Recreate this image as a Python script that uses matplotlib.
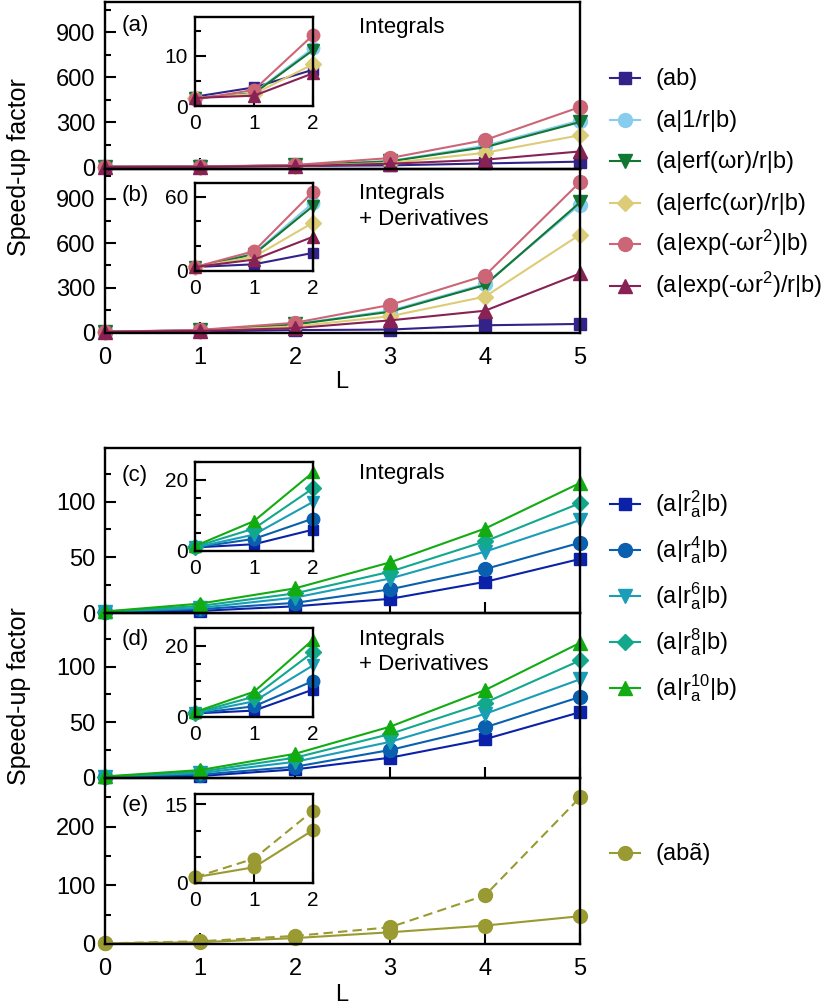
import matplotlib.pyplot as plt
import numpy as np
from matplotlib.lines import Line2D
from matplotlib.ticker import MultipleLocator

plt.rcParams.update({'font.family': 'Liberation Sans', 'font.size': 17,
                     'mathtext.fontset': 'custom', 'mathtext.rm': 'Liberation Sans',
                     'mathtext.it': 'Liberation Sans', 'mathtext.default': 'rm',
                     'axes.linewidth': 1.7})

L = [0, 1, 2, 3, 4, 5]

# (a) integrals, (b) integrals + derivatives
top_labels = ['(ab)', '(a|1/r|b)', '(a|erf(ωr)/r|b)', '(a|erfc(ωr)/r|b)',
              '(a|exp(-ωr$^2$)|b)', '(a|exp(-ωr$^2$)/r|b)']
top_colors = ['#332288', '#88ccee', '#117733', '#ddcc77', '#cc6677', '#882255']
top_markers = ['s', 'o', 'v', 'D', 'o', '^']

int_ab = [1.85, 3.7, 7.2, 11, 24, 36]
int_1r = [1.6, 2.6, 11.5, 40, 142, 310]
int_erf = [1.6, 2.5, 11.1, 38, 132, 300]
int_erfc = [1.6, 2.4, 8.3, 27, 95, 212]
int_exp = [1.3, 3.2, 14.1, 60, 180, 400]
int_expr = [1.6, 2.05, 6.5, 22, 49, 104]

der_ab = [3.2, 5.4, 14.6, 18, 47, 56]
der_1r = [3.2, 14, 55, 145, 325, 860]
der_erf = [3.2, 13.5, 52.4, 138, 318, 875]
der_erfc = [3.2, 11.4, 39, 108, 240, 658]
der_exp = [3.2, 16, 64, 184, 382, 1012]
der_expr = [3.2, 9.2, 27.6, 80, 145, 396]

# (c) integrals, (d) integrals + derivatives, r_a^n operators
bot_labels = [r'(a|r$_a^2$|b)', r'(a|r$_a^4$|b)', r'(a|r$_a^6$|b)',
              r'(a|r$_a^8$|b)', r'(a|r$_a^{10}$|b)']
bot_colors = ['#0b22a8', '#0a60ae', '#1a9db6', '#12a88c', '#12ac12']
bot_markers = ['s', 'o', 'v', 'D', '^']

int_r2 = [1.0, 1.9, 6.0, 12.7, 27.9, 48.5]
int_r4 = [1.0, 3.4, 9.1, 21.2, 39.4, 63]
int_r6 = [1.0, 4.6, 13.8, 30.9, 55, 83.3]
int_r8 = [1.2, 6.3, 17.6, 37, 64.2, 98.5]
int_r10 = [1.4, 8.4, 22.1, 45.4, 75.7, 116.6]

der_r2 = [1.0, 1.8, 7.7, 18.2, 34.8, 59]
der_r4 = [1.0, 3.0, 10.1, 25.1, 45.4, 72.7]
der_r6 = [1.1, 4.4, 14.5, 32.4, 57.5, 88.5]
der_r8 = [1.2, 5.7, 18.2, 39.4, 67.5, 105.4]
der_r10 = [1.4, 7.1, 21.7, 46, 78.8, 121.2]

# (e) (ab~)
abt_label = '(abã)'
abt_color = '#9a9a33'
abt_int = [1.1, 3.0, 10.1, 20, 31.4, 47.4]
abt_der = [1.1, 4.65, 13.8, 28.5, 82.8, 249.8]

W, H = 830, 1007
fig = plt.figure(figsize=(W / 100, H / 100), dpi=100)


def box(x0, y0, x1, y1):
    return fig.add_axes([x0 / W, 1 - y1 / H, (x1 - x0) / W, (y1 - y0) / H])


def ticks(ax, major, minor, xlabels, inset=False):
    ax.yaxis.set_major_locator(MultipleLocator(major))
    ax.yaxis.set_minor_locator(MultipleLocator(minor))
    ax.xaxis.set_major_locator(MultipleLocator(1))
    ax.xaxis.set_minor_locator(plt.NullLocator())
    fs = 15 if inset else 17
    ax.tick_params(which='both', direction='in', top=False, right=False, width=1.5,
                   labelsize=fs, pad=5 if inset else 7)
    ax.tick_params(axis='x', pad=6 if inset else 10)
    ax.tick_params(which='major', length=8)
    ax.tick_params(which='minor', length=4)
    if not xlabels:
        ax.set_xticklabels([])


def draw(ax, series, colors, markers, ms=10, ls='-'):
    for y, c, m in zip(series, colors, markers):
        size = ms * {'s': 0.8, 'D': 0.85}.get(m, 1.0)
        ax.plot(L[:len(y)], y, ls, color=c, marker=m, ms=size, mec=c, lw=1.5, clip_on=False)


def txt(x, y, s, **kw):
    fig.text(x / W, 1 - y / H, s, va='center', **kw)


main_boxes = [(105, 2, 580, 169), (105, 169, 580, 333), (105, 448, 580, 613),
              (105, 613, 580, 778), (105, 778, 580, 944)]
inset_boxes = [(195, 17, 313, 106), (195, 183, 313, 271), (195, 462, 313, 551),
               (195, 628, 313, 717), (195, 794, 313, 883)]
main_ylim = [(-13, 1100), (-5, 1100), (0, 148), (0, 148), (0, 283)]
inset_ylim = [(0, 17.7), (0, 71), (0, 25), (0, 25), (0, 17)]
main_ticks = [(300, 150), (300, 150), (50, 25), (50, 25), (100, 50)]
inset_ticks = [(10, 5), (60, 20), (20, 5), (20, 5), (15, 5)]
xlab = [False, True, False, False, True]

data = [
    ([int_ab, int_1r, int_erf, int_erfc, int_exp, int_expr], top_colors, top_markers),
    ([der_ab, der_1r, der_erf, der_erfc, der_exp, der_expr], top_colors, top_markers),
    ([int_r2, int_r4, int_r6, int_r8, int_r10], bot_colors, bot_markers),
    ([der_r2, der_r4, der_r6, der_r8, der_r10], bot_colors, bot_markers),
]

for i in range(5):
    ax = box(*main_boxes[i])
    ax.set_facecolor('none')
    ax.set_xlim(0, 5)
    ax.set_ylim(*main_ylim[i])
    ticks(ax, *main_ticks[i], xlab[i])
    ins = box(*inset_boxes[i])
    ins.set_xlim(0, 2)
    ins.set_ylim(*inset_ylim[i])
    ticks(ins, *inset_ticks[i], True, inset=True)
    if i < 4:
        series, colors, markers = data[i]
        draw(ax, series, colors, markers)
        draw(ins, [s[:3] for s in series], colors, markers, ms=9)
    else:
        for a, ms, n in [(ax, 10, 6), (ins, 9, 3)]:
            a.plot(L[:n], abt_der[:n], color=abt_color, ls=(0, (4.5, 2.5)), lw=1.5,
                   marker='o', ms=ms, clip_on=False)
            a.plot(L[:n], abt_int[:n], color=abt_color, lw=1.5,
                   marker='o', ms=ms, clip_on=False)

# panel annotations
txt(122, 25, '(a)', fontsize=16)
txt(359, 27, 'Integrals', fontsize=16)
txt(122, 195, '(b)', fontsize=16)
txt(359, 193, 'Integrals', fontsize=16)
txt(359, 219, '+ Derivatives', fontsize=16)
txt(122, 475, '(c)', fontsize=16)
txt(359, 473, 'Integrals', fontsize=16)
txt(122, 640, '(d)', fontsize=16)
txt(359, 639, 'Integrals', fontsize=16)
txt(359, 665, '+ Derivatives', fontsize=16)
txt(122, 805, '(e)', fontsize=16)

txt(19, 167, 'Speed-up factor', rotation=90, ha='center', fontsize=18)
txt(19, 696, 'Speed-up factor', rotation=90, ha='center', fontsize=18)
txt(342, 382, 'L', ha='center', fontsize=17)
txt(342, 995, 'L', ha='center', fontsize=17)


# legends
def key(y, label, color, marker, ms=10):
    size = ms * {'s': 0.8, 'D': 0.85}.get(marker, 1.0)
    fig.add_artist(Line2D([610 / W, 625 / W, 640 / W], [1 - y / H] * 3, color=color,
                          lw=1.5, marker=marker, ms=size, mec=color, markevery=[1],
                          transform=fig.transFigure))
    fig.text(655 / W, 1 - (y + 7) / H, label, va='baseline', fontsize=17)


for k in range(6):
    key(78 + 41.6 * k, top_labels[k], top_colors[k], top_markers[k])
for k in range(5):
    key(504 + 46 * k, bot_labels[k], bot_colors[k], bot_markers[k])
key(853, abt_label, abt_color, 'o')

fig.savefig('out.png', dpi=100)
